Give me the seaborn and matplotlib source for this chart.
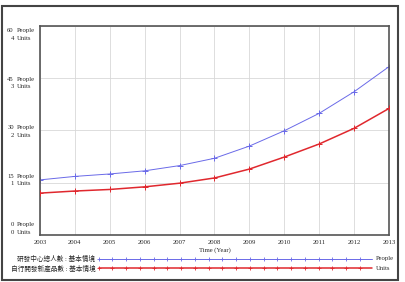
import numpy as np
import pandas as pd
import matplotlib.pyplot as plt
import seaborn as sns
from matplotlib.lines import Line2D
from matplotlib.patches import Rectangle

# --- Data ---
years = [2003, 2004, 2005, 2006, 2007, 2008, 2009, 2010, 2011, 2012, 2013]
people = [15.8, 16.8, 17.5, 18.4, 19.9, 22.0, 25.5, 29.9, 34.9, 41.1, 48.3]
units = [0.80, 0.84, 0.87, 0.92, 0.99, 1.09, 1.26, 1.49, 1.74, 2.04, 2.42]

people_ticks = [0, 15, 30, 45, 60]
units_ticks = [0, 1, 2, 3, 4]
label_people = "研發中心總人數 : 基本情境"
label_units = "自行開發新產品數 : 基本情境"

df = pd.DataFrame({"Year": years, "People": people, "Units": units})

sns.set_style("white")
plt.rcParams['font.family'] = ['Liberation Serif', 'Noto Sans CJK TC', 'DejaVu Sans']

blue = "#6a6ae8"
red = "#e0282e"
fs = 4.8

fig = plt.figure(figsize=(4.06, 2.82), dpi=100)
ax = fig.add_axes([0.0985, 0.167, 0.8595, 0.741])

sns.lineplot(data=df, x="Year", y="People", ax=ax, color=blue, linewidth=0.7,
             marker="+", markersize=4, markeredgewidth=0.7, markeredgecolor=blue)
ax.set_xlim(2003, 2013)
ax.set_ylim(0, 60)

ax2 = ax.twinx()
sns.lineplot(data=df, x="Year", y="Units", ax=ax2, color=red, linewidth=1.1,
             marker="+", markersize=4, markeredgewidth=0.7, markeredgecolor=red)
ax2.set_ylim(0, 4)
ax2.set_yticks([])
ax2.set_ylabel("")
for s in ax2.spines.values():
    s.set_visible(False)

ax.set_xticks(years)
ax.set_xticklabels([str(y) for y in years], fontsize=fs)
ax.set_yticks(people_ticks)
ax.set_yticklabels([])
ax.tick_params(axis="both", length=0, pad=4)
ax.grid(True, color="#d8d8d8", linewidth=0.6)
ax.set_xlabel("Time (Year)", fontsize=fs, labelpad=1)
ax.set_ylabel("")
for s in ax.spines.values():
    s.set_color("#555555")
    s.set_linewidth(1.2)

# y labels spread evenly inside the range, Vensim style
n = len(people_ticks)
for i, (p, u) in enumerate(zip(people_ticks, units_ticks)):
    yc = 0.031 + i * (0.959 - 0.031) / (n - 1)
    for dy, num, word in [(0.018, p, "People"), (-0.018, u, "Units")]:
        ax.text(-0.075, yc + dy, str(num), transform=ax.transAxes, fontsize=fs,
                ha="right", va="center")
        ax.text(-0.066, yc + dy, word, transform=ax.transAxes, fontsize=fs,
                ha="left", va="center")

# --- Legend drawn across the bottom ---
for yy, lab, col, lw, unit in [(0.082, label_people, blue, 0.7, "People"),
                                (0.048, label_units, red, 1.1, "Units")]:
    fig.text(0.235, yy, lab, fontsize=fs, ha="right", va="center")
    xs = np.linspace(0.243, 0.917, 200)
    fig.add_artist(Line2D(xs, [yy] * len(xs), transform=fig.transFigure, color=col,
                          linewidth=lw, marker="+", markersize=3.5, markeredgewidth=0.6,
                          markevery=10))
    fig.text(0.925, yy, unit, fontsize=fs, ha="left", va="center")

# outer frame
fig.add_artist(Rectangle((0.004, 0.008), 0.976, 0.972, transform=fig.transFigure,
                         fill=False, edgecolor="#444444", linewidth=1.5))

plt.savefig("out.png", dpi=100)
plt.close()
